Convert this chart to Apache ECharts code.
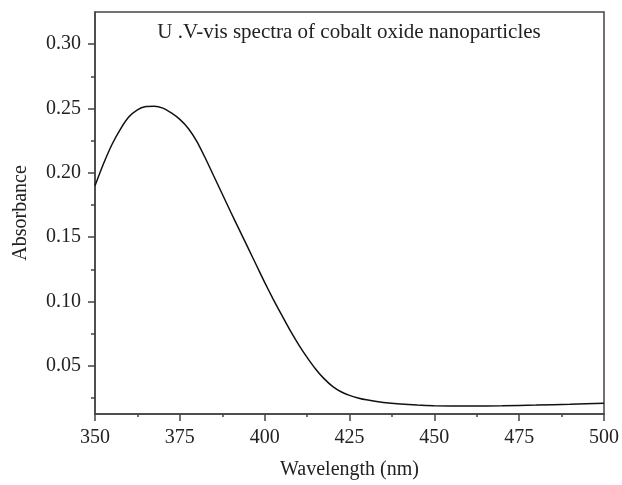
<!DOCTYPE html>
<html>
<head>
<meta charset="utf-8">
<script src="https://cdn.jsdelivr.net/npm/echarts@6/dist/echarts.min.js"></script>
<style>
html, body { margin: 0; padding: 0; background: #fff; }
#spectrum { width: 622px; height: 485px; }
</style>
</head>
<body>
<div id="spectrum"></div>
<script>
// wavelength (nm) and absorbance
const wavelength = [350, 352.5, 355, 357.5, 360, 362.5, 365, 367.5, 370, 372.5, 375, 377.5, 380, 382.5, 385, 387.5, 390, 392.5, 395, 397.5, 400, 402.5, 405, 407.5, 410, 412.5, 415, 417.5, 420, 422.5, 425, 427.5, 430, 435, 440, 445, 450, 460, 470, 480, 490, 500];
const absorbance = [0.190, 0.207, 0.222, 0.234, 0.2435, 0.249, 0.2515, 0.2518, 0.2503, 0.2465, 0.2415, 0.2345, 0.2245, 0.2115, 0.1975, 0.1835, 0.1695, 0.1558, 0.1422, 0.1285, 0.1148, 0.1018, 0.0895, 0.0775, 0.0665, 0.0565, 0.0475, 0.0400, 0.0340, 0.0298, 0.0270, 0.0250, 0.0235, 0.0215, 0.0202, 0.0194, 0.0190, 0.0187, 0.0189, 0.0194, 0.0200, 0.0208];
const yMajorTicks = [0.05, 0.10, 0.15, 0.20, 0.25, 0.30];
const yMinorTicks = [0.025, 0.075, 0.125, 0.175, 0.225, 0.275];

const serif = '"Liberation Serif", "DejaVu Serif", serif';
const axisColor = '#444';
const textColor = '#222';

let chart = echarts.init(document.getElementById('spectrum'));

let points = wavelength.map((w, i) => [w, absorbance[i]]);

let option = {
    animation: false,
    title: {
        text: 'U .V-vis spectra of cobalt oxide nanoparticles',
        left: 349,
        top: 22,
        textAlign: 'center',
        padding: 0,
        textStyle: {
            color: textColor,
            fontFamily: serif,
            fontSize: 21,
            fontWeight: 'normal'
        }
    },
    grid: {
        left: 95,
        right: 18,
        top: 12,
        bottom: 70,
        show: true,
        borderColor: axisColor,
        borderWidth: 1.5
    },
    xAxis: {
        type: 'value',
        min: 350,
        max: 500,
        interval: 25,
        name: 'Wavelength (nm)',
        nameLocation: 'middle',
        nameGap: 46,
        nameTextStyle: { color: textColor, fontFamily: serif, fontSize: 20 },
        axisLine: { lineStyle: { color: axisColor, width: 1.5 } },
        axisTick: { length: 7, lineStyle: { color: axisColor, width: 1.5 } },
        minorTick: { show: true, splitNumber: 2, length: 3, lineStyle: { color: axisColor, width: 1.5 } },
        splitLine: { show: false },
        axisLabel: { color: textColor, fontFamily: serif, fontSize: 20, margin: 14 }
    },
    yAxis: [
        {
            type: 'value',
            min: 0.0125,
            max: 0.325,
            name: 'Absorbance',
            nameLocation: 'middle',
            nameGap: 64,
            nameTextStyle: { color: textColor, fontFamily: serif, fontSize: 20 },
            axisLine: { show: true, lineStyle: { color: axisColor, width: 1.5 } },
            axisTick: { show: true, length: 7, customValues: yMajorTicks, lineStyle: { color: axisColor, width: 1.5 } },
            splitLine: { show: false },
            axisLabel: {
                color: textColor,
                fontFamily: serif,
                fontSize: 20,
                margin: 14,
                customValues: yMajorTicks,
                formatter: v => v.toFixed(2)
            }
        },
        {
            type: 'value',
            min: 0.0125,
            max: 0.325,
            position: 'left',
            axisLine: { show: false },
            axisTick: { show: true, length: 4, customValues: yMinorTicks, lineStyle: { color: axisColor, width: 1.5 } },
            axisLabel: { show: false },
            splitLine: { show: false }
        }
    ],
    series: [
        {
            type: 'line',
            data: points,
            showSymbol: false,
            smooth: 0.2,
            lineStyle: { color: '#111', width: 1.5 }
        }
    ]
};

option && chart.setOption(option);
</script>
</body>
</html>
